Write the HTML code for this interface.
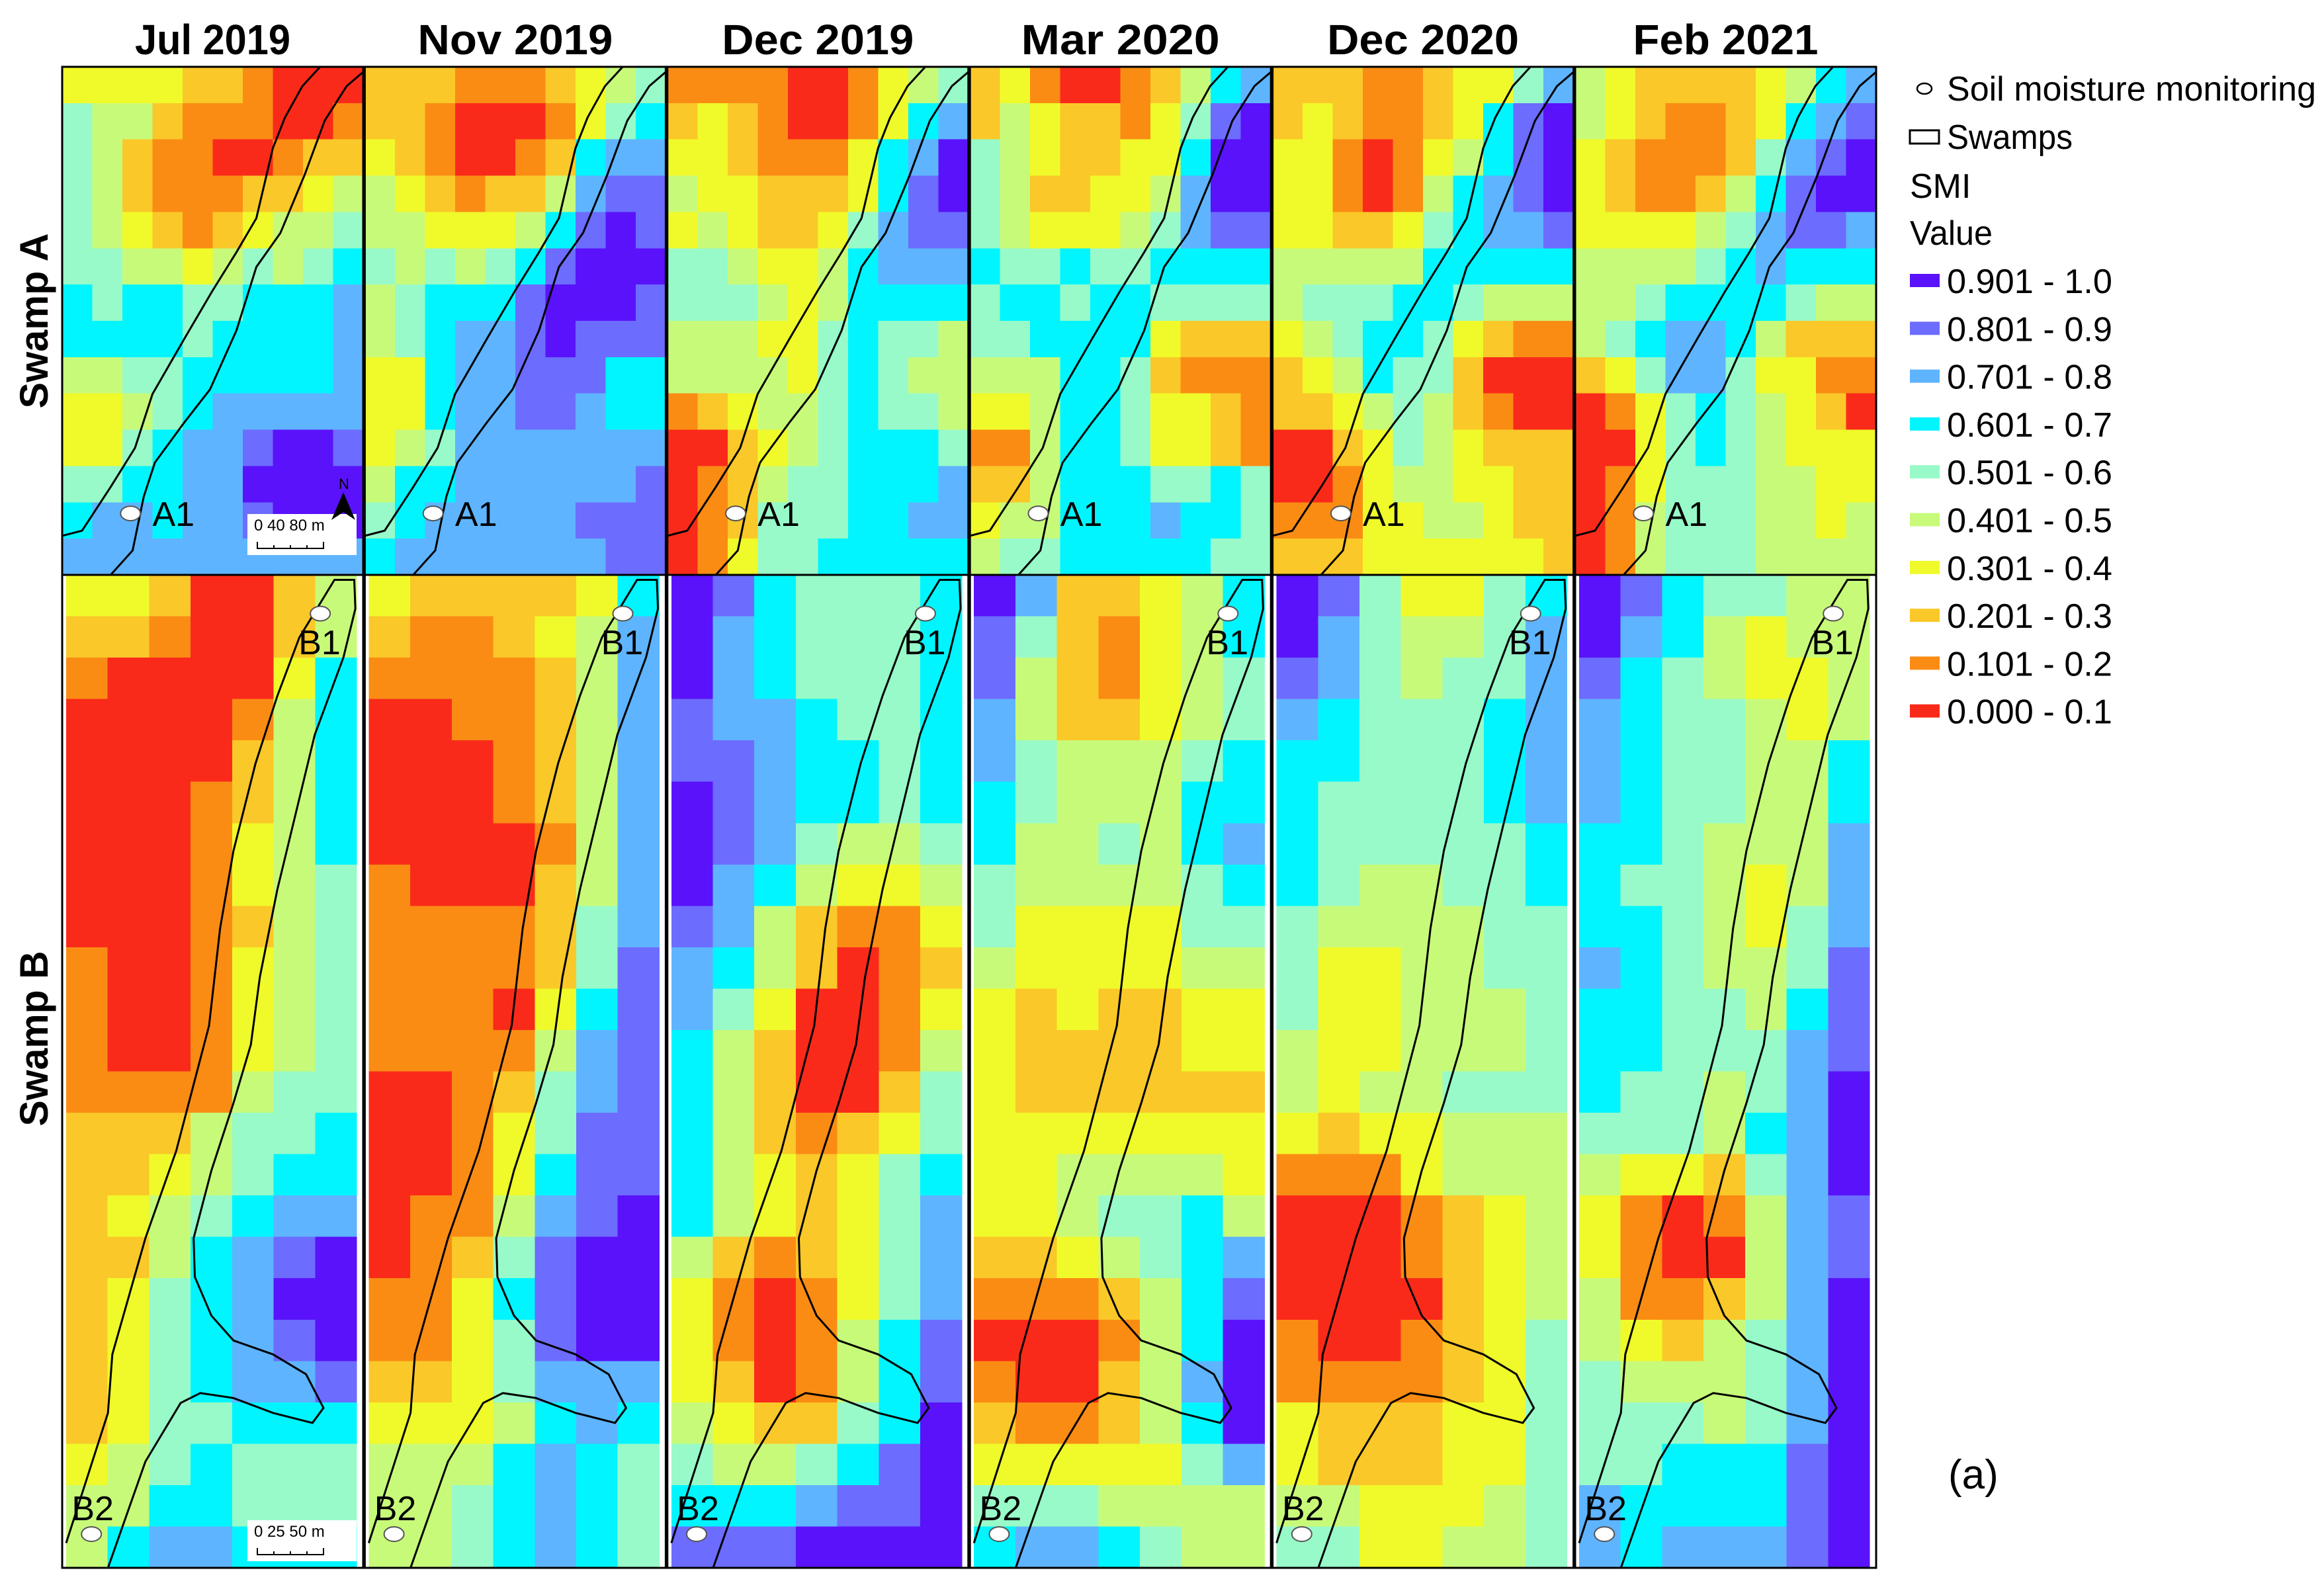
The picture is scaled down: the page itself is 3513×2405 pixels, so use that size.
<!DOCTYPE html>
<html><head><meta charset="utf-8"><style>
html,body{margin:0;padding:0;background:#fff;}
svg{display:block;}
text{font-family:"Liberation Sans",sans-serif;}
</style></head><body>
<svg id="fig" width="3513" height="2405" viewBox="0 0 3513 2405" xmlns="http://www.w3.org/2000/svg">
<g id="panels"></g>
<g id="legend"></g>
<text transform="translate(72,485) rotate(-90)" text-anchor="middle" font-size="60" font-weight="bold" textLength="265" lengthAdjust="spacingAndGlyphs">Swamp A</text>
<text transform="translate(72,1570) rotate(-90)" text-anchor="middle" font-size="60" font-weight="bold" textLength="265" lengthAdjust="spacingAndGlyphs">Swamp B</text>
<text x="2945" y="2250" font-size="62" font-family="Liberation Serif, serif">(a)</text>
</svg>
<script>
const dates = ["Jul 2019","Nov 2019","Dec 2019","Mar 2020","Dec 2020","Feb 2021"];
const titleLens = [235,295,290,300,290,280];
const classLabels = ["0.000 - 0.1","0.101 - 0.2","0.201 - 0.3","0.301 - 0.4","0.401 - 0.5","0.501 - 0.6","0.601 - 0.7","0.701 - 0.8","0.801 - 0.9","0.901 - 1.0"];
const classColors = ["#fa2a1a","#fa8c14","#fac828","#f0fa2a","#c8fa7a","#98fac8","#00f5ff","#5fb4ff","#6c6cff","#5a12fa"];
const swampA = [
["3333221000","5442111001","5421100122","5421112234","5432123445","5544345456","6566556667","6666566667","4455666667","3345677777","3356778998","5566779999","6776778999","7777777777"],
["2221112345","2210001356","3210012677","4321224788","4433346898","5454568999","4566689998","4567789888","3367788866","3367788766","3457777777","4667777778","5677777888","6777777788"],
["1111001345","2321001367","3321113679","4332223689","3432235788","5543346777","5554346666","4443356554","4444356544","1234456554","0023456665","0124556667","0125556677","0135566666"],
["2310012467","2432213589","5432233699","5422334799","5433345788","6556556666","5665665555","5566663222","4446652111","3346653321","1146653321","2246665565","3446667665","4556666655"],
["2221123357","2321123689","3310134689","3310146789","3322356778","4444466666","4555665444","3456653211","2346552000","2234542100","0023543222","0013443322","1113344322","2223333332"],
["4322223467","4321123678","3211125789","3211246899","3333457887","4444567666","4456666544","4567764222","2357753311","0135654320","0035654333","0135554433","0145554434","0145554444"]
];
const swampB = [
["3320024","2210024","1000036","0000146","0000246","0001246","0001346","0001345","0001245","1001345","1001345","1001345","1111455","2224556","2234566","2345677","2246789","2356799","2356789","2356778","2355666","3456555","4466555","4677666"],
["3222236","2112347","1111247","0011247","0001247","0001247","0000147","1000247","1111257","1111258","1110368","1111478","0012578","0013588","0013688","0114789","0125899","1136899","1135899","2235777","3334676","4446765","4456765","4456765"],
["9865556","9765556","9765556","8776556","8876656","9876656","9875445","9764334","8742113","7642012","7530013","6420014","6420025","6421235","6432356","6432357","4212357","3101357","3101468","3201468","4322569","5445689","6667889","8889999"],
["9722346","8521346","8421345","7422345","7544456","6544466","6445467","5444456","5333355","4333344","3232233","3222233","3222222","3333333","3344443","3345564","2234567","1112468","0001469","1002479","2112469","3333357","5554444","6776544"],
["9853356","9754457","8754557","7655567","6655567","6555567","6555556","6544556","5444455","5334455","5334445","4334445","4344555","3233444","1113444","0001234","0001234","0000234","1001235","1111235","3222335","3222335","4433345","5533445"],
["9865544","9764344","8654334","7655434","7655446","7655446","6654447","6554347","6654357","7654458","6655468","6655578","6554579","5554679","4332579","3101478","3100478","4112479","4324579","5444579","5554579","5566689","7666689","7677789"]
];
const aCols = 10, aRows = 14, bCols = 7, bRows = 24;
const lineA1 = [[0,0.923],[0.066,0.913],[0.161,0.827],[0.242,0.75],[0.3,0.644],[0.403,0.538],[0.498,0.442],[0.579,0.365],[0.645,0.298],[0.7,0.16],[0.74,0.1],[0.798,0.038],[0.857,0]];
const lineA2 = [[0.161,1],[0.234,0.952],[0.271,0.846],[0.308,0.779],[0.403,0.702],[0.491,0.635],[0.579,0.519],[0.645,0.394],[0.725,0.327],[0.806,0.212],[0.872,0.106],[0.945,0.038],[1,0.01]];
const lineB = [[0,0.975],[0.144,0.844],[0.159,0.785],[0.273,0.668],[0.379,0.58],[0.492,0.454],[0.53,0.356],[0.576,0.278],[0.652,0.19],[0.727,0.122],[0.803,0.063],[0.924,0.005],[0.992,0.005],[0.996,0.034],[0.955,0.083],[0.856,0.161],[0.727,0.317],[0.667,0.405],[0.636,0.473],[0.576,0.532],[0.5,0.6],[0.439,0.668],[0.443,0.707],[0.5,0.746],[0.576,0.771],[0.712,0.785],[0.826,0.805],[0.886,0.839],[0.848,0.854],[0.712,0.844],[0.576,0.829],[0.462,0.824],[0.394,0.834],[0.273,0.893],[0.144,1]];

const NS="http://www.w3.org/2000/svg";
function mk(tag, attrs, parent){const e=document.createElementNS(NS,tag);for(const k in attrs)e.setAttribute(k,attrs[k]);parent.appendChild(e);return e;}
const panels=document.getElementById('panels');
const X0=94, PW=455, PSTEP=457.4, AY=101, AH=768, BY=869, BH=1501;
function pathFrom(pts,x,y,w,h,close){return pts.map((p,i)=>(i?'L':'M')+(x+p[0]*w).toFixed(1)+' '+(y+p[1]*h).toFixed(1)).join(' ')+(close?' Z':'');}
function drawGrid(g,grid,cols,rows,x,y,w,h){
  const cw=w/cols, ch=h/rows;
  for(let r=0;r<rows;r++)for(let c=0;c<cols;c++){
    const v=+grid[r][c];
    const rc=mk('rect',{x:(x+c*cw).toFixed(2),y:(y+r*ch).toFixed(2),width:(cw+0.6).toFixed(2),height:(ch+0.6).toFixed(2),fill:classColors[v],'shape-rendering':'crispEdges'},g);
    
    
  }
}
function site(g,fx,fy,lx,ly,label,x,y,w,h){
  const c=mk('ellipse',{cx:x+fx*w,cy:y+fy*h,rx:15,ry:11,fill:'#fff',stroke:'#555','stroke-width':2},g);
  
  
  const t=mk('text',{x:x+lx*w,y:y+ly*h+18,'font-size':52},g);
  t.textContent=label;
  
  
}
dates.forEach((d,i)=>{
  const x=X0+i*PSTEP;
  const g=mk('g',{},panels);
  
  
  const t=mk('text',{x:x+PW/2,y:82,'text-anchor':'middle','font-size':64,'font-weight':'bold',textLength:titleLens[i],lengthAdjust:'spacingAndGlyphs'},g);
  t.textContent=d;
  
  
  const ga=mk('g',{},g);
  
  
  drawGrid(ga,swampA[i],aCols,aRows,x,AY,PW,AH);
  const gb=mk('g',{},g);
  
  
  drawGrid(gb,swampB[i],bCols,bRows,x+6,BY,PW-16,BH);
  [lineA1,lineA2].forEach(L=>{
    const p=mk('path',{d:pathFrom(L,x,AY,PW,AH,false),fill:'none',stroke:'#000','stroke-width':3},ga);
    
    
  });
  const pb=mk('path',{d:pathFrom(lineB,x+6,BY,PW-16,BH,false),fill:'none',stroke:'#000','stroke-width':3},gb);
  
  
  site(ga,0.227,0.879,0.30,0.88,'A1',x,AY,PW,AH);
  site(gb,0.875,0.039,0.80,0.068,'B1',x+6,BY,PW-16,BH);
  site(gb,0.087,0.966,0.019,0.94,'B2',x+6,BY,PW-16,BH);
  const fa=mk('rect',{x:x,y:AY,width:PW,height:AH,fill:'none',stroke:'#000','stroke-width':3},g);
  
  
  const fb=mk('rect',{x:x,y:BY,width:PW,height:BH,fill:'none',stroke:'#000','stroke-width':3},g);
  
  
  if(i===0){
    [[AY+AH-92,'0   40  80 m'],[BY+BH-72,'0   25  50 m']].forEach((s,k)=>{
      const sg=mk('g',{},g);
      
      
      mk('rect',{x:x+PW-175,y:s[0],width:165,height:62,fill:'#fff'},sg);
      const st=mk('text',{x:x+PW-165,y:s[0]+25,'font-size':24},sg);st.textContent=s[1];
      mk('path',{d:`M${x+PW-160} ${s[0]+42} v10 h100 v-10 M${x+PW-135} ${s[0]+47} v5 M${x+PW-110} ${s[0]+47} v5 M${x+PW-85} ${s[0]+47} v5`,stroke:'#000','stroke-width':2,fill:'none'},sg);
    });
    const na=mk('g',{},g);
    
    
    mk('path',{d:`M${x+PW-30} ${AY+AH-125} l-18 42 l18 -12 l18 12 z`,fill:'#000'},na);
    const nt=mk('text',{x:x+PW-37,y:AY+AH-130,'font-size':22},na);nt.textContent='N';
  }
});
const lg=document.getElementById('legend');
const LX=2887, TX=2943;
const l1=mk('ellipse',{cx:LX+22,cy:134,rx:11,ry:8,fill:'#fff',stroke:'#000','stroke-width':2.5},lg);


const t1=mk('text',{x:TX,y:152,'font-size':52,textLength:558,lengthAdjust:'spacingAndGlyphs'},lg);t1.textContent='Soil moisture monitoring';


const l2=mk('rect',{x:LX,y:197,width:44,height:20,fill:'#fff',stroke:'#000','stroke-width':3},lg);


const t2=mk('text',{x:TX,y:225,'font-size':52,textLength:190,lengthAdjust:'spacingAndGlyphs'},lg);t2.textContent='Swamps';


const t3=mk('text',{x:LX,y:299,'font-size':52},lg);t3.textContent='SMI';


const t4=mk('text',{x:LX,y:370,'font-size':52,textLength:125,lengthAdjust:'spacingAndGlyphs'},lg);t4.textContent='Value';


for(let k=0;k<10;k++){
  const ci=9-k, cy=424+k*72.3;
  const sw=mk('rect',{x:LX,y:cy-10,width:45,height:20,fill:classColors[ci]},lg);
  
  
  const tt=mk('text',{x:TX,y:cy+19,'font-size':52,textLength:250,lengthAdjust:'spacingAndGlyphs'},lg);tt.textContent=classLabels[ci];
  
  
}
</script>
</body></html>
